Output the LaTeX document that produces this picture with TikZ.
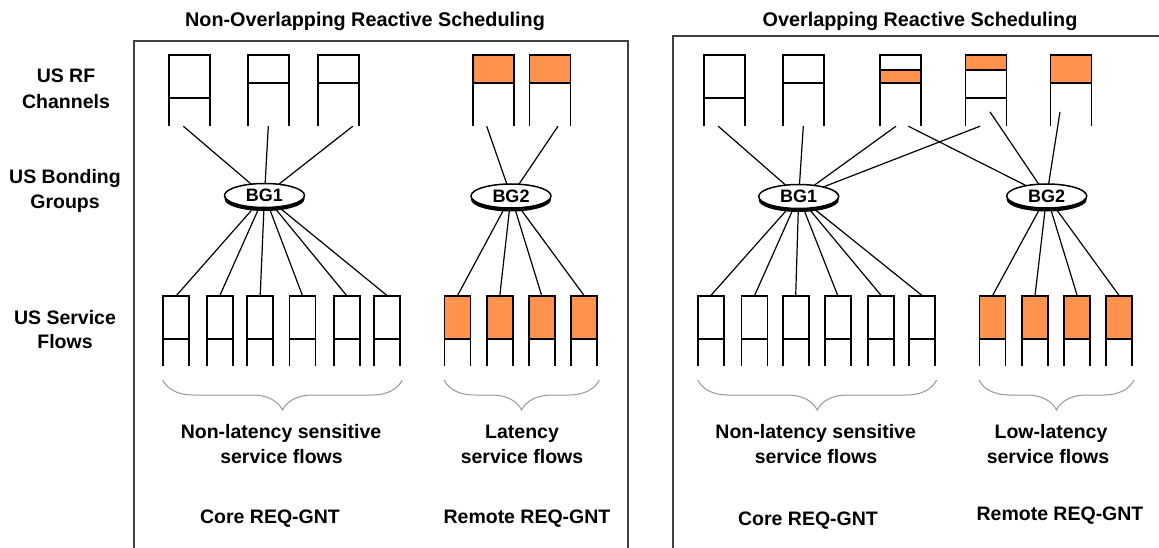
\documentclass[tikz,border=0pt]{standalone}
\usepackage{fontspec}
\setmainfont{Liberation Sans}
\usetikzlibrary{shapes.geometric,shadows,backgrounds,decorations.pathreplacing,calc}
\definecolor{flowfill}{RGB}{255,146,77}
\definecolor{bracegray}{RGB}{150,150,150}

% upstream RF channel: name, centre x, divider y
\newcommand\rfchan[3]{%
  \node[chbox] (#1) at (#2,90.5) {};
  \draw[boxline] (#1.south west) -- (#1.north west) -- (#1.north east) -- (#1.south east);
  \draw[boxline] (#1.west |- 0,#3) -- (#1.east |- 0,#3);
}
% service flow queue: name, centre x
\newcommand\sflow[2]{%
  \node[sfbox] (#1) at (#2,331) {};
  \draw[boxline] (#1.south west) -- (#1.north west) -- (#1.north east) -- (#1.south east);
  \draw[boxline] (#1.west |- 0,339) -- (#1.east |- 0,339);
}
% occupied slot: name, top y, bottom y
\newcommand\band[3]{%
  \filldraw[boxline, fill=flowfill] (#1.west |- 0,#2) rectangle (#1.east |- 0,#3);
}

\begin{document}
\begin{tikzpicture}[x=1pt,y=-1pt,
  boxline/.style={line width=1.8pt},
  chbox/.style={rectangle, draw=none, inner sep=0pt, minimum width=40.5pt, minimum height=71pt},
  sfbox/.style={rectangle, draw=none, inner sep=0pt, minimum width=25.5pt, minimum height=70.3pt},
  bgnode/.style={ellipse, draw, line width=1.5pt, fill=white, inner sep=0pt,
    minimum width=80pt, minimum height=24pt,
    general shadow={fill=black, shadow yshift=-3.5pt},
    font=\bfseries\fontsize{18}{20}\selectfont},
  connline/.style={line width=1.2pt},
  bracepath/.style={draw=bracegray, line width=1pt, decorate,
    decoration={brace, mirror, amplitude=30pt}},
  lbl/.style={font=\bfseries\fontsize{19.5}{22}\selectfont, anchor=base, inner sep=0pt},
  ttl/.style={font=\bfseries\fontsize{19.8}{22}\selectfont, anchor=base, inner sep=0pt},
  panel/.style={draw=black!75, line width=1.4pt}
]
\useasboundingbox (0,0) rectangle (1159,548);

% panel frames
\draw[panel] (134,548) -- (134,41) -- (628,41) -- (628,548);
\draw[panel] (673,548) -- (673,36) -- (1159,36);

% titles
\node[ttl] (ttlA) at (365,27) {Non-Overlapping Reactive Scheduling};
\node[ttl] (ttlB) at (920,27) {Overlapping Reactive Scheduling};

% row labels
\node[lbl] (rowA1) at (66,83) {US RF};
\node[lbl] (rowA2) at (66,109) {Channels};
\node[lbl] (rowB1) at (65,184) {US Bonding};
\node[lbl] (rowB2) at (65,208) {Groups};
\node[lbl] (rowC1) at (65,324) {US Service};
\node[lbl] (rowC2) at (65,348) {Flows};

% ---- non-overlapping panel ----
\rfchan{L1}{189.3}{98.3}
\rfchan{L2}{268.3}{83.3}
\rfchan{L3}{338.8}{83.3}
\rfchan{L4}{493.7}{83.3}
\rfchan{L5}{550}{83.3}
\band{L4}{55}{83.3}
\band{L5}{55}{83.3}

\node[bgnode] (LB1) at (264.5,195.5) {BG1};
\node[bgnode] (LB2) at (511,196) {BG2};

\sflow{Lf1}{176.3}
\sflow{Lf2}{219.8}
\sflow{Lf3}{260.2}
\sflow{Lf4}{302.5}
\sflow{Lf5}{346.7}
\sflow{Lf6}{387.2}
\sflow{Lo1}{457.5}
\sflow{Lo2}{499.8}
\sflow{Lo3}{541.7}
\sflow{Lo4}{584.2}
\foreach \q in {Lo1,Lo2,Lo3,Lo4} {\band{\q}{295.7}{339}}

% ---- overlapping panel ----
\rfchan{R1}{724.2}{98.3}
\rfchan{R2}{803.3}{83.3}
\rfchan{R3}{900.3}{70}
\rfchan{R4}{986}{98.3}
\rfchan{R5}{1071}{83.3}
\band{R3}{70}{83.3}
\band{R4}{55}{70}
\band{R5}{55}{83.3}

\node[bgnode] (RB1) at (798.7,196.5) {BG1};
\node[bgnode] (RB2) at (1046.7,196) {BG2};

\sflow{Rf1}{710.7}
\sflow{Rf2}{754.5}
\sflow{Rf3}{795.7}
\sflow{Rf4}{837.8}
\sflow{Rf5}{881.3}
\sflow{Rf6}{922.2}
\sflow{Ro1}{992.5}
\sflow{Ro2}{1035}
\sflow{Ro3}{1077.2}
\sflow{Ro4}{1119.2}
\foreach \q in {Ro1,Ro2,Ro3,Ro4} {\band{\q}{295.7}{339}}

% connectors, kept behind the bonding-group discs
\begin{pgfonlayer}{background}
  \draw[connline] ([xshift=-6pt]L1.south) -- (LB1.center);
  \draw[connline] (L2.south) -- (LB1.center);
  \draw[connline] ([xshift=14pt]L3.south) -- (LB1.center);
  \draw[connline] ([xshift=-7pt]L4.south) -- (LB2.center);
  \draw[connline] ([xshift=8pt]L5.south) -- (LB2.center);
  \foreach \q in {Lf1,Lf2,Lf3,Lf4,Lf5,Lf6} {\draw[connline] (LB1.center) -- (\q.north);}
  \foreach \q in {Lo1,Lo2,Lo3,Lo4} {\draw[connline] (LB2.center) -- (\q.north);}

  \draw[connline] ([xshift=-6pt]R1.south) -- (RB1.center);
  \draw[connline] (R2.south) -- (RB1.center);
  \draw[connline] ([xshift=-4.3pt]R3.south) -- (RB1.center);
  \draw[connline] ([xshift=8pt]R3.south) -- (RB2.center);
  \draw[connline] ([xshift=-6pt]R4.south) -- (RB1.center);
  \draw[connline] ([xshift=4pt,yshift=14.3pt]R4.south) -- (RB2.center);
  \draw[connline] ([xshift=-11pt,yshift=14.3pt]R5.south) -- (RB2.center);
  \foreach \q in {Rf1,Rf2,Rf3,Rf4,Rf5,Rf6} {\draw[connline] (RB1.center) -- (\q.north);}
  \foreach \q in {Ro1,Ro2,Ro3,Ro4} {\draw[connline] (RB2.center) -- (\q.north);}
\end{pgfonlayer}

% braces grouping the flows
\draw[bracepath] (162.7,380) -- (402.3,380);
\draw[bracepath] (444,380) -- (599.3,380);
\draw[bracepath] (697.7,380) -- (936.7,380);
\draw[bracepath] (979,380) -- (1134,380);

% group captions
\node[lbl] (capA1) at (281,438.7) {Non-latency sensitive};
\node[lbl] (capA2) at (281.5,463.5) {service flows};
\node[lbl] (capB1) at (522,438.7) {Latency};
\node[lbl] (capB2) at (522,463.5) {service flows};
\node[lbl] (capC1) at (815.7,438.7) {Non-latency sensitive};
\node[lbl] (capC2) at (816,463.5) {service flows};
\node[lbl] (capD1) at (1051,438.7) {Low-latency};
\node[lbl] (capD2) at (1048,463.5) {service flows};

\node[lbl] (gntA) at (270,523.7) {Core REQ-GNT};
\node[lbl] (gntB) at (527,523.7) {Remote REQ-GNT};
\node[lbl] (gntC) at (808,525) {Core REQ-GNT};
\node[lbl] (gntD) at (1060,520.5) {Remote REQ-GNT};
\end{tikzpicture}
\end{document}
